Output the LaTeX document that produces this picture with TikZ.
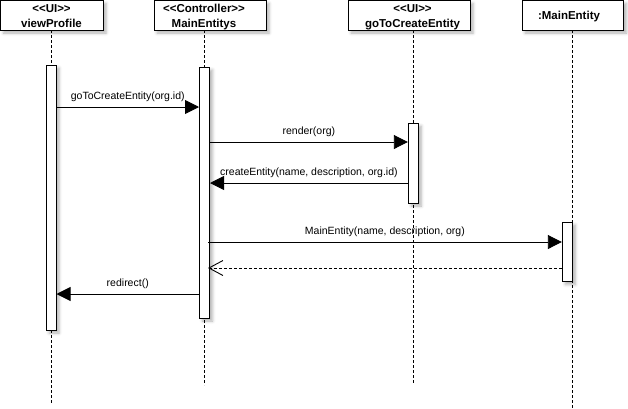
\documentclass[tikz,border=0pt]{standalone}
\usepackage{fontspec}
\setmainfont{Liberation Sans}
\usetikzlibrary{arrows.meta,shadows.blur}
\begin{document}
\begin{tikzpicture}[x=1pt,y=-1pt,
  shad/.style={blur shadow={shadow xshift=3pt,shadow yshift=-3pt,shadow blur radius=3pt,shadow opacity=30}},
  headbox/.style={draw=black,line width=1pt,fill=white,shad,inner sep=0pt,minimum height=29.5pt},
  headtext/.style={inner sep=0pt,align=center,font=\bfseries\fontsize{11.5}{15}\selectfont,text height=24pt,text depth=3pt},
  bar/.style={draw=black,line width=1pt,fill=white,shad,inner sep=0pt,minimum width=10pt},
  life/.style={draw=black,line width=0.9pt,dash pattern=on 3pt off 2pt},
  msg/.style={draw=black,line width=0.9pt,-{Triangle[length=14pt,width=14pt]}},
  ret/.style={draw=black,line width=0.9pt,dash pattern=on 3pt off 2pt,-{Straight Barb[length=14pt,width=15pt,line width=0.9pt]}},
  lbl/.style={midway,anchor=base,yshift=8pt,inner sep=0pt,font=\fontsize{10.5}{12}\selectfont}]
\useasboundingbox (0,0) rectangle (628,408);
% lifeline coordinates
\coordinate (l1t) at (51,30);    \coordinate (l1b) at (51,403);
\coordinate (l2t) at (204,30);   \coordinate (l2b) at (204,385);
\coordinate (l3t) at (413.5,30); \coordinate (l3b) at (413.5,384);
\coordinate (l4t) at (572.3,30); \coordinate (l4b) at (572.3,408);
\draw[life] (l1t) -- (l1b);
\draw[life] (l2t) -- (l2b);
\draw[life] (l3t) -- (l3b);
\draw[life] (l4t) -- (l4b);
% heads
\node[headbox,minimum width=102.5pt] (h1) at (51.75,15.25) {};
\node[headbox,minimum width=112pt] (h2) at (210,15.25) {};
\node[headbox,minimum width=122pt] (h3) at (409,15.25) {};
\node[headbox,minimum width=101.5pt] (h4) at (572.75,15.25) {};
\node[headtext] (t1) at (51.5,16.5) {<{}<UI>{}>\\viewProfile};
\node[headtext] (t2) at (204,16.5) {<{}<Controller>{}>\\MainEntitys};
\node[headtext] (t3) at (412.5,16.5) {<{}<UI>{}>\\goToCreateEntity};
\node[inner sep=0pt,anchor=base,font=\bfseries\fontsize{11.5}{15}\selectfont] (t4) at (569,19.5) {:MainEntity};
% activation bars
\node[bar,minimum height=265pt] (b1) at (51,197.5) {};
\node[bar,minimum height=251pt] (b2) at (204.5,192.5) {};
\node[bar,minimum height=80pt] (b3) at (413.3,163) {};
\node[bar,minimum height=59.5pt] (b4) at (567.3,251.75) {};
% messages
\draw[msg] (b1.east |- 0,107) -- node[lbl]{goToCreateEntity(org.id)} (b2.west |- 0,107);
\draw[msg] (b2.east |- 0,142) -- node[lbl]{render(org)} (b3.west |- 0,142);
\draw[msg] (b3.west |- 0,183) -- node[lbl]{createEntity(name, description, org.id)} (b2.east |- 0,183);
\draw[msg] ([xshift=-2pt]b2.east |- 0,242) -- node[lbl]{MainEntity(name, description, org)} (b4.west |- 0,242);
\draw[ret] (b4.west |- 0,268) -- ([xshift=-2pt]b2.east |- 0,268);
\draw[msg] (b2.west |- 0,294) -- node[lbl]{redirect()} (b1.east |- 0,294);
\end{tikzpicture}
\end{document}
